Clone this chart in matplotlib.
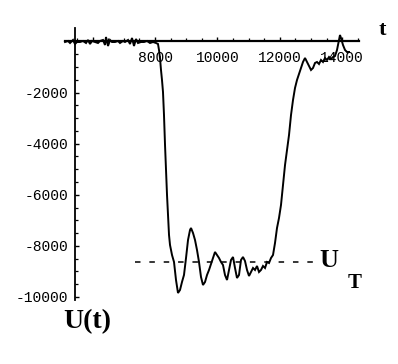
import matplotlib
matplotlib.use("Agg")
import matplotlib.pyplot as plt
from matplotlib.ticker import FixedLocator, MultipleLocator

# ---- data ----
t_vals = [5116, 5212, 5276, 5372, 5436, 5500, 5596, 5692, 5789, 5853, 5917, 5981,
          6077, 6173, 6237, 6333, 6397, 6429, 6494, 6558, 6622, 6718, 6814, 6878,
          6974, 7038, 7135, 7199, 7263, 7327, 7391, 7455, 7551, 7647, 7744, 7840,
          7936, 8032, 8096,
          8128, 8160, 8192, 8224, 8256, 8288, 8321, 8353, 8385, 8417, 8449, 8481,
          8545, 8609, 8673, 8737, 8801, 8865, 8929, 8994, 9058, 9122, 9154, 9218,
          9282, 9346, 9410, 9474, 9538, 9603, 9667, 9731, 9795, 9859, 9923, 9987,
          10051, 10115, 10179, 10243, 10308, 10372, 10436, 10500, 10564, 10628,
          10692, 10756, 10820, 10884, 10949, 11013, 11077, 11141, 11205, 11269,
          11333, 11397, 11461, 11526, 11590, 11654, 11718, 11782, 11846, 11910,
          11974, 12038, 12102, 12167, 12231, 12295, 12359, 12423, 12487, 12551,
          12615, 12679, 12743, 12808, 12872, 12936, 13000, 13064, 13128, 13192,
          13256, 13320, 13384, 13449, 13513, 13577, 13641, 13705, 13769, 13833,
          13897, 13929, 13961, 14025, 14090, 14154, 14218]
u_vals = [-20, 20, -59, 59, -98, -20, -20, 20, -59, 59, -98, 20,
          -20, -59, 20, 59, -137, 176, -176, 59, -20, -20, 20, -59,
          20, -20, 59, -98, 137, -176, 98, -59, -20, -20, 20, -59,
          -20, -59, -98,
          -333, -646, -1115, -1507, -1977, -2877, -4051, -5030, -6008, -6791, -7574, -7965,
          -8357, -8630, -9335, -9844, -9726, -9413, -9139, -8474, -7769, -7378, -7300, -7495,
          -7769, -8161, -8630, -9217, -9531, -9413, -9139, -8943, -8709, -8474, -8239, -8357,
          -8474, -8630, -8748, -9139, -9335, -8943, -8552, -8435, -8865, -9257,
          -9139, -8552, -8435, -8591, -8943, -9178, -9022, -8865, -8943, -8787,
          -9022, -8943, -8787, -8865, -8630, -8670, -8474, -8357, -7887, -7300,
          -6908, -6399, -5617, -4834, -4247, -3660, -2877, -2290, -1820, -1507,
          -1272, -1037, -802, -646, -802, -959, -1115, -1037, -841, -802,
          -881, -724, -802, -646, -724, -607, -685, -607, -568, -333,
          59, 254, 137, -137, -333, -411, -411]

u_threshold = -8630
threshold_span = [7360, 13225]

x_major_ticks = [6000, 8000, 10000, 12000, 14000]
x_tick_labels = ["", "8000", "10000", "12000", "14000"]
y_major_ticks = [-10000, -8000, -6000, -4000, -2000]
y_tick_labels = ["-10000", "-8000", "-6000", "-4000", "-2000"]

# ---- figure ----
fig = plt.figure(figsize=(3.98, 3.64), dpi=100)
ax = fig.add_axes([0, 0, 1, 1])
ax.set_xlim(3032, 15788)
ax.set_ylim(-12623, 1624)
ax.patch.set_alpha(0)

ax.plot(t_vals, u_vals, color="black", lw=1.4, solid_joinstyle="miter", zorder=3)
ax.hlines(u_threshold, threshold_span[0], threshold_span[1], colors="black",
          lw=1.1, linestyles=(0, (3.6, 5.8)), zorder=2)

for s in ["top", "right"]:
    ax.spines[s].set_visible(False)
ax.spines["left"].set_position(("data", 5436))
ax.spines["bottom"].set_position(("data", 0))
ax.spines["left"].set_bounds(-10117, 528)
ax.spines["bottom"].set_bounds(5116, 14540)
ax.spines["left"].set_linewidth(1.3)
ax.spines["bottom"].set_linewidth(1.6)

ax.xaxis.set_major_locator(FixedLocator(x_major_ticks))
ax.set_xticklabels(x_tick_labels)
ax.xaxis.set_minor_locator(MultipleLocator(500))
ax.yaxis.set_major_locator(FixedLocator(y_major_ticks))
ax.set_yticklabels(y_tick_labels)
ax.yaxis.set_minor_locator(MultipleLocator(500))

tick_font = dict(family="Liberation Mono", size=10.5)
for lab in ax.get_xticklabels() + ax.get_yticklabels():
    lab.set_fontfamily(tick_font["family"])
    lab.set_fontsize(tick_font["size"])

ax.tick_params(axis="both", which="major", direction="in", length=3.2, width=1.0,
               color="black")
ax.tick_params(axis="both", which="minor", direction="in", length=2.2, width=0.9,
               color="black")
ax.tick_params(axis="x", which="major", pad=7)
ax.tick_params(axis="y", which="major", pad=5)

# minor ticks beyond spine bounds removed
ax.xaxis.set_minor_locator(FixedLocator([v for v in range(5500, 14600, 500)]))
ax.yaxis.set_minor_locator(FixedLocator([v for v in range(-10000, 500, 500)]))

serif = ["Liberation Serif", "DejaVu Serif"]
ax.text(15180, 450, "t", family=serif, weight="bold", fontsize=16,
        ha="left", va="center")
ax.text(5051, -10979, "U(t)", family=serif, weight="bold", fontsize=20,
        ha="left", va="center")
ax.text(13256, -8591, "U", family=serif, weight="bold", fontsize=19,
        ha="left", va="center")
ax.text(14186, -9452, "T", family=serif, weight="bold", fontsize=15,
        ha="left", va="center")

fig.savefig("out.png", dpi=100)
